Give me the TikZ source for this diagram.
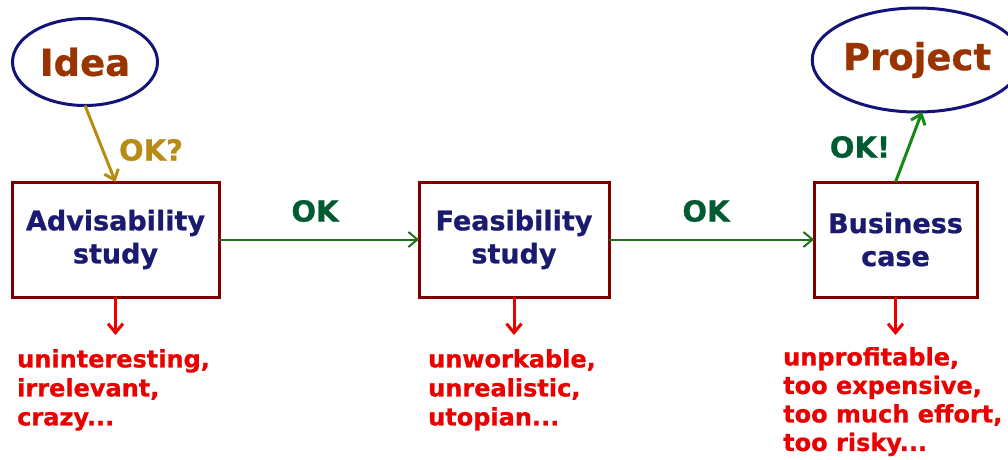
\documentclass[tikz,border=0pt]{standalone}
\usepackage{fontspec}
\setmainfont{DejaVu Sans}[BoldFeatures={FakeBold=0.8}]
\usetikzlibrary{shapes.geometric,arrows.meta}
\definecolor{brownt}{RGB}{153,51,0}
\definecolor{navyb}{RGB}{20,20,120}
\definecolor{boxred}{RGB}{128,0,0}
\definecolor{boxtxt}{RGB}{26,26,110}
\definecolor{okgreen}{RGB}{0,90,50}
\definecolor{arrgreen}{RGB}{30,110,30}
\definecolor{brightgreen}{RGB}{20,135,20}
\definecolor{gold}{RGB}{184,140,20}
\definecolor{redt}{RGB}{235,0,0}
\begin{document}
\begin{tikzpicture}[x=1pt,y=-1pt,
  ell/.style={ellipse,draw=navyb,line width=3pt,inner sep=0pt,outer sep=0pt,
    text=brownt,font=\bfseries\fontsize{37}{40}\selectfont},
  stepbox/.style={rectangle,draw=boxred,line width=3pt,inner sep=0pt,outer sep=0pt,
    minimum height=115pt,text=boxtxt,align=center,font=\bfseries\fontsize{27}{33}\selectfont},
  oklab/.style={inner sep=0pt,font=\bfseries\fontsize{29}{30}\selectfont},
  fail/.style={anchor=north west,inner sep=0pt,align=left,text=redt,
    font=\bfseries\fontsize{24}{29}\selectfont},
  tip/.style={-{Straight Barb[length=9pt,width=15pt]}},
]
\useasboundingbox (0,0) rectangle (1008,459);
\node[ell,minimum width=145pt,minimum height=87pt] (idea) at (85,62) {Idea};
\node[ell,minimum width=180pt,minimum height=104pt] (proj) at (917,60) {Project};
\node[stepbox,minimum width=207pt] (adv) at (115.5,239.5) {Advisability\\study};
\node[stepbox,minimum width=190pt] (feas) at (514,239.5) {Feasibility\\study};
\node[stepbox,minimum width=163pt] (biz) at (895.5,239.5) {Business\\case};

\draw[tip,gold,line width=3pt] (idea.south) -- (adv.north);
\node[oklab,text=gold] (okq) at (151,150) {OK?};
\draw[tip,brightgreen,line width=3pt] (biz.north) -- ([xshift=5pt]proj.south);
\node[oklab,text=okgreen] (okx) at (860,147) {OK!};
\draw[tip,arrgreen,line width=2pt] (adv.east) -- (feas.west);
\node[oklab,text=okgreen] (ok1) at (315,211) {OK};
\draw[tip,arrgreen,line width=2pt] (feas.east) -- (biz.west);
\node[oklab,text=okgreen] (ok2) at (706,211) {OK};

\coordinate (e1) at (115.5,335);
\coordinate (e2) at (514,335);
\coordinate (e3) at (895.5,335);
\draw[tip,redt,line width=3pt] (adv.south) -- (e1);
\draw[tip,redt,line width=3pt] (feas.south) -- (e2);
\draw[tip,redt,line width=3pt] (biz.south) -- (e3);
\node[fail] (f1) at (17,349) {uninteresting,\\irrelevant,\\crazy...};
\node[fail] (f2) at (428,349) {unworkable,\\unrealistic,\\utopian...};
\node[fail,font=\bfseries\fontsize{24}{28.5}\selectfont] (f3) at (783,347) {unprofitable,\\too expensive,\\too much effort,\\too risky...};
\end{tikzpicture}
\end{document}
